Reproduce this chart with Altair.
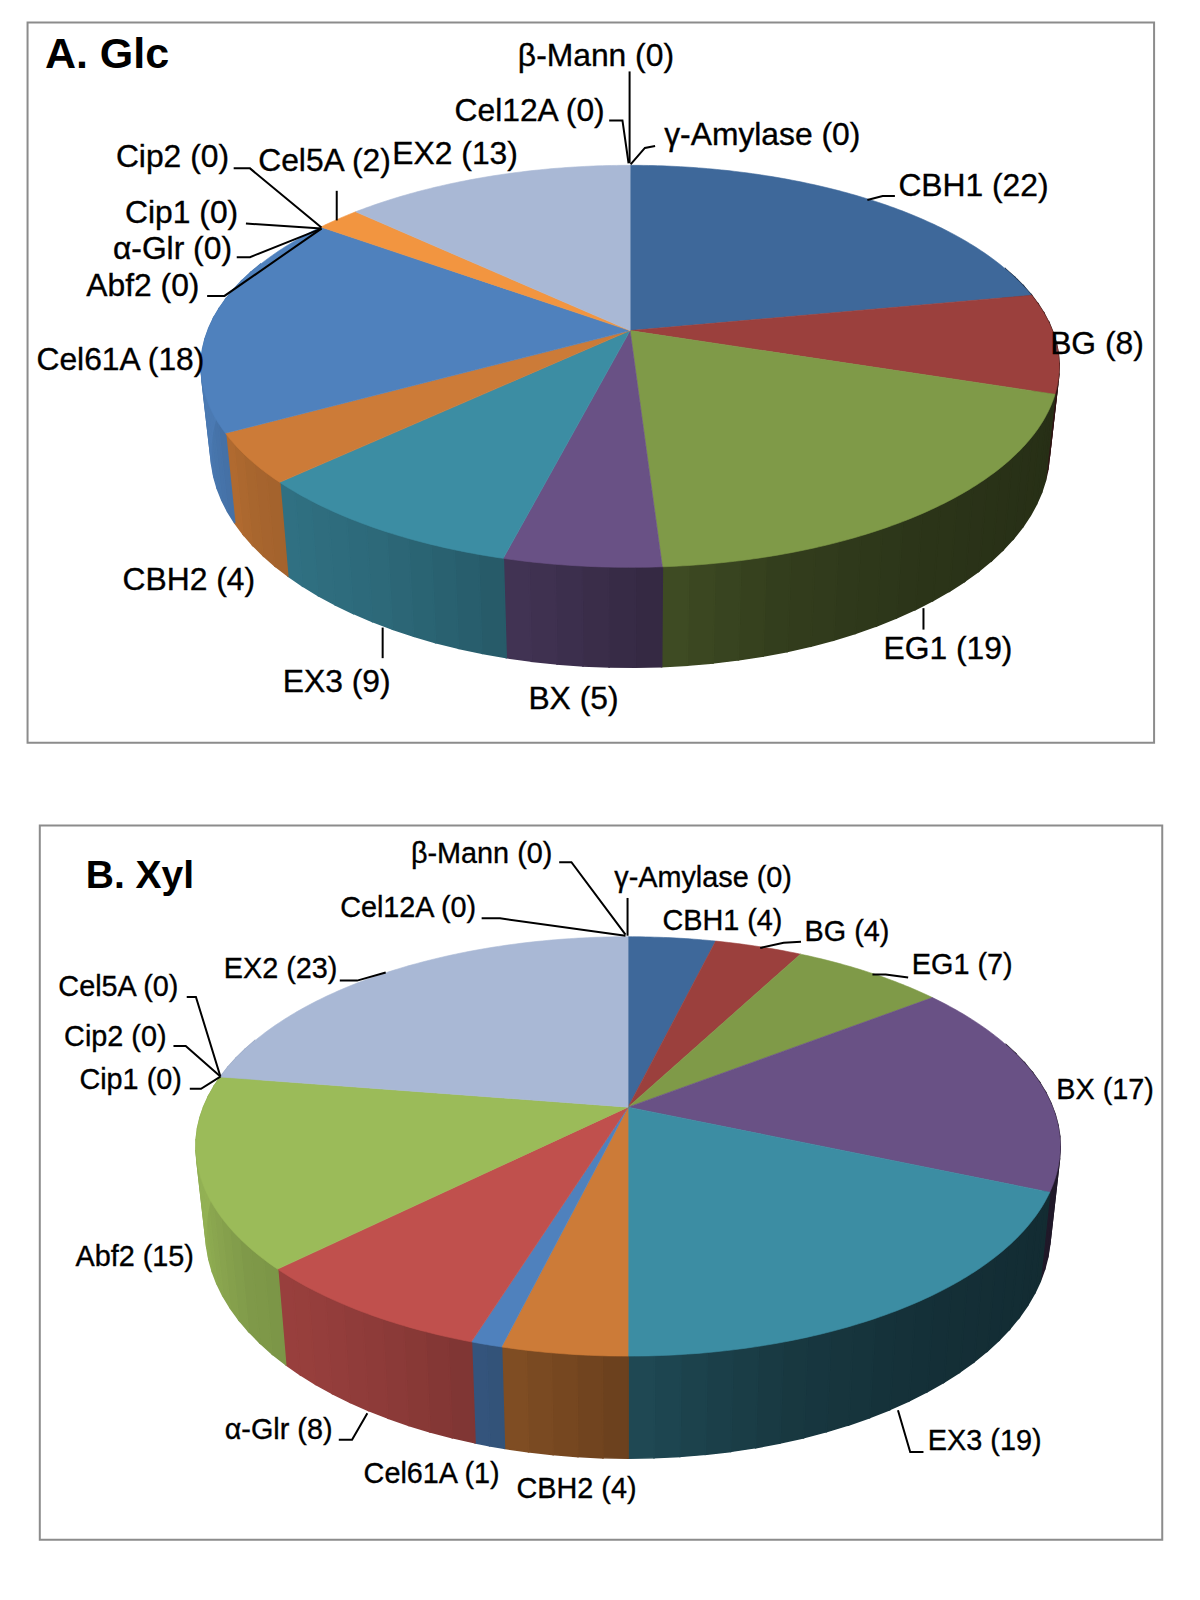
import math
import altair as alt

# ---------- values ----------
names_a = ["CBH1", "BG", "EG1", "BX", "EX3", "CBH2", "Cel61A", "Abf2", "α-Glr", "Cip1", "Cip2",
           "Cel5A", "EX2", "Cel12A", "β-Mann", "γ-Amylase"]
values_a = [22, 8, 19, 5, 9, 4, 18, 0, 0, 0, 0, 2, 13, 0, 0, 0]
colors_a = ["#3E689A", "#9B403D", "#7F9A48", "#695185", "#3C8DA3", "#CC7B38", "#4F81BD", "#9BBB59",
            "#C0504D", "#8064A2", "#4BACC6", "#F29540", "#A9B8D5", "#B8A9C9", "#A9D0DD", "#F9C090"]

names_b = ["CBH1", "BG", "EG1", "BX", "EX3", "CBH2", "Cel61A", "α-Glr", "Abf2", "Cip1", "Cip2",
           "Cel5A", "EX2", "Cel12A", "β-Mann", "γ-Amylase"]
values_b = [4, 4, 7, 17, 19, 4, 1, 8, 15, 0, 0, 0, 23, 0, 0, 0]
colors_b = ["#3E689A", "#9B403D", "#7F9A48", "#695185", "#3C8DA3", "#CC7B38", "#4F81BD", "#C0504D",
            "#9BBB59", "#8064A2", "#4BACC6", "#F29540", "#A9B8D5", "#B8A9C9", "#A9D0DD", "#F9C090"]

# ---------- layout (in units of the 1176-wide sketch; see SCALE) ----------
SCALE = 1200 / 1176
pie_a = dict(cx=617.5, cy=324, up=162, down=232, halfw=420.5, depth=80.5)
pie_b = dict(cx=615.5, cy=1085, up=167, down=244, halfw=423.5, depth=81.3)
frames = [(27, 22, 1131, 728), (39, 809, 1139, 1509)]

titles = [("A. Glc", 44, 54, 43), ("B. Xyl", 84, 858, 39)]
label_size_a, label_size_b = 31.8, 28.8

labels_a = {"β-Mann": (584, 55), "Cel12A": (519, 109), "γ-Amylase": (747, 132), "CBH1": (954, 182),
            "BG": (1075, 337), "EG1": (929, 636), "BX": (562, 685), "EX3": (330, 668),
            "CBH2": (185, 568), "Cel61A": (118, 353), "Abf2": (140, 280), "α-Glr": (169, 244),
            "Cip1": (178, 209), "Cip2": (169, 154), "Cel5A": (318, 158), "EX2": (446, 151)}
labels_b = {"β-Mann": (472, 837), "γ-Amylase": (689, 860), "Cel12A": (400, 890), "CBH1": (708, 903),
            "BG": (830, 913), "EG1": (943, 946), "BX": (1083, 1068), "EX3": (965, 1412),
            "CBH2": (565, 1459), "Cel61A": (423, 1445), "α-Glr": (273, 1401), "Abf2": (132, 1232),
            "Cip1": (128, 1058), "Cip2": (113, 1016), "Cel5A": (116, 967), "EX2": (275, 950)}

leaders = [
    [(617, 70), (617, 160)],
    [(597, 118), (610, 118), (616, 160)],
    [(642, 143), (632, 145), (618, 161)],
    [(850, 196), (865, 192), (877, 192)],
    [(229, 165), (245, 165), (315, 223)],
    [(330, 187), (330, 216)],
    [(241, 219), (315, 224)],
    [(232, 252), (245, 252), (315, 224)],
    [(203, 290), (220, 290), (315, 224)],
    [(375, 615), (375, 645)],
    [(905, 596), (905, 617)],
    [(548, 845), (560, 845), (613, 916)],
    [(615, 880), (615, 917)],
    [(472, 900), (490, 900), (613, 917)],
    [(745, 929), (768, 924), (785, 923)],
    [(855, 955), (868, 955), (890, 958)],
    [(333, 961), (350, 961), (378, 953)],
    [(183, 977), (192, 977), (216, 1055)],
    [(170, 1025), (182, 1025), (216, 1055)],
    [(186, 1067), (197, 1067), (216, 1055)],
    [(332, 1411), (345, 1411), (360, 1385)],
    [(880, 1382), (892, 1423), (905, 1423)],
]

# side-wall shading, from the left edge (-1) to the right edge (+1)
shade_u = [-1.0, -0.8, -0.5, -0.28, 0.0, 0.3, 0.6, 1.0]
shade_k = [0.95, 0.82, 0.74, 0.65, 0.52, 0.40, 0.34, 0.30]


def shade(u):
    for i in range(len(shade_u) - 1):
        if u <= shade_u[i + 1]:
            t = (u - shade_u[i]) / (shade_u[i + 1] - shade_u[i])
            return shade_k[i] + t * (shade_k[i + 1] - shade_k[i])
    return shade_k[-1]


def darker(hex_color, k):
    r, g, b = (int(hex_color[i:i + 2], 16) for i in (1, 3, 5))
    return "#%02x%02x%02x" % (round(r * k), round(g * k), round(b * k))


def project(p, deg):
    """Top-face point of the tilted pie at a clockwise angle from 12 o'clock."""
    k = (p["down"] - p["up"]) / (p["down"] + p["up"])
    a = p["up"] * (1 + k)
    r = p["halfw"] * math.sqrt(1 - k * k)
    u, v = math.sin(math.radians(deg)), math.cos(math.radians(deg))
    w = 1 + k * v
    return p["cx"] + r * u / w, p["cy"] - a * v / w, w


def bottom(p, deg):
    x, y, w = project(p, deg)
    return p["cx"] + (x - p["cx"]) * 0.977, y + p["depth"] / w


def poly(ring, color, sw):
    ring = [list(q) for q in ring] + [list(ring[0])]
    return {"type": "Feature", "geometry": {"type": "Polygon", "coordinates": [ring]},
            "properties": {"c": color, "sw": sw}}


def pie_features(p, values, colors):
    total = sum(values)
    walls, tops = [], []
    start = 0.0
    for val, col in zip(values, colors):
        if val == 0:
            continue
        span = 360 * val / total
        n = max(2, math.ceil(span / 3))
        angles = [start + span * i / n for i in range(n + 1)]
        for a0, a1 in zip(angles[:-1], angles[1:]):
            mid = (a0 + a1) / 2
            if math.cos(math.radians(mid)) > 0.35:
                continue
            ring = [project(p, a0)[:2], project(p, a1)[:2], bottom(p, a1), bottom(p, a0)]
            walls.append(poly(ring, darker(col, shade(math.sin(math.radians(mid)))), 1.6))
        fine = [start + span * i / (4 * n) for i in range(4 * n + 1)]
        tops.append(poly([(p["cx"], p["cy"])] + [project(p, a)[:2] for a in fine], col, 0.6))
        start += span
    return walls + tops


features = pie_features(pie_a, values_a, colors_a) + pie_features(pie_b, values_b, colors_b)

frame_features = [poly([(x0, y0), (x1, y0), (x1, y1), (x0, y1)], "#8c8c8c", 2) for x0, y0, x1, y1 in frames]

label_rows = []
for names, values, pos, size in ((names_a, values_a, labels_a, label_size_a),
                                 (names_b, values_b, labels_b, label_size_b)):
    for n, v in zip(names, values):
        label_rows.append({"t": f"{n} ({v})", "x": pos[n][0], "y": pos[n][1], "s": size})

title_rows = [{"t": t, "x": x, "y": y, "s": s} for t, x, y, s in titles]
leader_rows = [{"id": i, "o": j, "x": q[0], "y": q[1]} for i, line in enumerate(leaders) for j, q in enumerate(line)]

proj = alt.Projection(type="identity", scale=SCALE, translate=[-8, -8])
FONT = "Liberation Sans"

frame_layer = alt.Chart(alt.Data(values=frame_features)).mark_geoshape(
    filled=False, stroke="#8c8c8c", strokeWidth=2).properties(projection=proj)

pie_layer = alt.Chart(alt.Data(values=features)).mark_geoshape().encode(
    fill=alt.Fill("properties.c:N", scale=None),
    stroke=alt.Stroke("properties.c:N", scale=None),
    strokeWidth=alt.StrokeWidth("properties.sw:Q", scale=None),
).properties(projection=proj)

leader_layer = alt.Chart(alt.Data(values=leader_rows)).mark_line(color="black", strokeWidth=2).encode(
    longitude="x:Q", latitude="y:Q", detail="id:N", order="o:Q").properties(projection=proj)

text_layer = alt.Chart(alt.Data(values=label_rows)).mark_text(
    font=FONT, color="black", stroke="black", strokeWidth=0.35, align="center", baseline="middle").encode(
    longitude="x:Q", latitude="y:Q", text="t:N", size=alt.Size("s:Q", scale=None)).properties(projection=proj)

title_layer = alt.Chart(alt.Data(values=title_rows)).mark_text(
    font=FONT, fontWeight="bold", color="black", align="left", baseline="middle").encode(
    longitude="x:Q", latitude="y:Q", text="t:N", size=alt.Size("s:Q", scale=None)).properties(projection=proj)

chart = alt.layer(frame_layer, pie_layer, leader_layer, text_layer, title_layer).properties(
    width=1184, height=1584, padding=0, background="white",
    autosize=alt.AutoSizeParams(type="none"),
).configure_view(stroke=None)

chart.save("out.html", embed_options={"renderer": "svg", "actions": False})
